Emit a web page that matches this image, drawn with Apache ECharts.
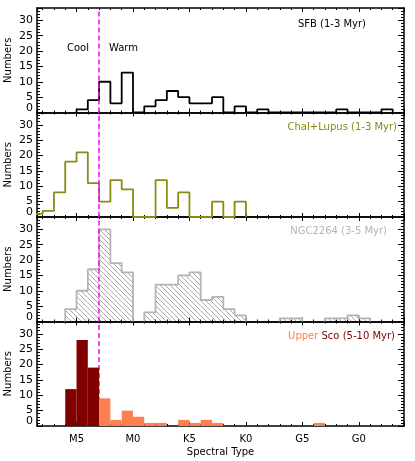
<!DOCTYPE html>
<html>
<head>
<meta charset="utf-8">
<script src="https://cdn.jsdelivr.net/npm/echarts@6/dist/echarts.min.js"></script>
<style>
  html, body { margin: 0; padding: 0; background: #fff; }
  #chart { width: 415px; height: 461px; }
</style>
</head>
<body>
<div id="chart"></div>
<script>
// one bin per spectral subtype, x = 0 is M5, 5 is M0 ... 25 is G0
var binStart = -4;
var sfb      = [0,0,0,0,1,4,10,3,13,0,2,4,7,5,3,3,5,0,2,0,1,0,0,0,0,0,0,1,0,0,0,1,0];
var chaLupus = [1,2,8,18,21,11,5,12,9,0,0,12,3,8,0,0,5,0,5,0,0,0,0,0,0,0,0,0,0,0,0,0,0];
var ngc2264  = [0,0,0,4,10,17,30,19,16,0,3,12,12,15,16,7,8,4,2,0,0,0,1,1,0,0,1,1,2,1,0,0,0];
var upperSco = [0,0,0,12,28,19,9,2,5,3,1,1,0,2,1,2,1,0,0,0,0,0,0,0,0,1,0,0,0,0,0,0,0];
var tickNames = ['M5', 'M0', 'K5', 'K0', 'G5', 'G0'];
var coolWarm = 2; // M3

var font = 'DejaVu Sans';
var olive = '#8a8a14';
var grey = '#b4b4b4';
var maroon = '#800000';
var coral = '#ff7f50';

var tops = [8, 112.5, 217, 321.5];
var ph = 104.5;

// step outline, optionally broken where the count is zero
function stepPoints(counts, breakAtZero) {
  var pts = [];
  var first = -1, last = -1;
  counts.forEach(function (c, k) { if (c > 0) { if (first < 0) first = k; last = k; } });
  var open = false;
  for (var k = first; k <= last; k++) {
    var c = counts[k];
    if (breakAtZero && c === 0) {
      if (open) { pts.push([binStart + k, 0]); pts.push(null); open = false; }
      continue;
    }
    if (!open) { pts.push([binStart + k, 0]); open = true; }
    pts.push([binStart + k, c]);
  }
  pts.push([binStart + last + 1, 0]);
  return pts;
}

function hatchCanvas() {
  var s = 5;
  var c = document.createElement('canvas');
  c.width = s; c.height = s;
  var g = c.getContext('2d');
  g.strokeStyle = '#a8a8a8';
  g.lineWidth = 1;
  g.beginPath();
  g.moveTo(-1, -1); g.lineTo(s + 1, s + 1);
  g.moveTo(-1, s - 1); g.lineTo(1, s + 1);
  g.moveTo(s - 1, -1); g.lineTo(s + 1, 1);
  g.stroke();
  return c;
}
var hatch = hatchCanvas();

function barItems(counts) {
  var out = [];
  counts.forEach(function (c, k) { if (c > 0) out.push([binStart + k, c]); });
  return out;
}

function barRender(fillFn) {
  return function (params, api) {
    var x0 = api.value(0), h = api.value(1);
    var p0 = api.coord([x0, h]);
    var p1 = api.coord([x0 + 1, 0]);
    var cs = params.coordSys;
    var r = echarts.graphic.clipRectByRect(
      { x: p0[0], y: p0[1], width: p1[0] - p0[0], height: p1[1] - p0[1] },
      { x: cs.x, y: cs.y, width: cs.width, height: cs.height });
    if (!r) return;
    return { type: 'rect', shape: r, style: { fill: fillFn(x0), stroke: null } };
  };
}

var grids = [], xAxes = [], yAxes = [], series = [];

tops.forEach(function (t, i) {
  grids.push({ left: 37, right: 11, top: t, height: ph, containLabel: false, outerBoundsMode: 'none' });
  ['bottom', 'top'].forEach(function (pos) {
    xAxes.push({
      type: 'value', gridIndex: i, position: pos, min: -3.5, max: 29, splitNumber: 6,
      axisLine: { show: true, onZero: false, lineStyle: { color: '#000', width: 1.5 } },
      axisTick: { show: true, inside: true, length: 4, lineStyle: { color: '#000', width: 1 } },
      minorTick: { show: true, splitNumber: 5, length: 2, lineStyle: { color: '#000', width: 1 } },
      splitLine: { show: false },
      axisLabel: {
        show: pos === 'bottom' && i === 3, margin: 8, color: '#000', fontSize: 10, fontFamily: font,
        formatter: function (v) { return (v % 5 === 0 && v >= 0 && v <= 25) ? tickNames[v / 5] : ''; }
      },
      name: (pos === 'bottom' && i === 3) ? 'Spectral Type' : '',
      nameLocation: 'middle', nameGap: 21, nameMoveOverlap: false,
      nameTextStyle: { color: '#000', fontSize: 10, fontFamily: font }
    });
  });
  ['left', 'right'].forEach(function (pos) {
    yAxes.push({
      type: 'value', gridIndex: i, position: pos, min: 0, max: 34, splitNumber: 7,
      axisLine: { show: true, onZero: false, lineStyle: { color: '#000', width: 1.5 } },
      axisTick: { show: true, inside: true, length: 6, lineStyle: { color: '#000', width: 1 } },
      minorTick: { show: true, splitNumber: 5, length: 3, lineStyle: { color: '#000', width: 1 } },
      splitLine: { show: false },
      axisLabel: {
        show: pos === 'left', margin: 4, color: '#000', fontSize: 11, fontFamily: font,
        formatter: function (v) { return v % 5 === 0 ? (v === 0 ? '{z|0}' : String(v)) : ''; },
        rich: { z: { padding: [0, 0, 9, 0], fontSize: 11, fontFamily: font, color: '#000' } }
      },
      name: pos === 'left' ? 'Numbers' : '',
      nameLocation: 'middle', nameGap: 24, nameMoveOverlap: false,
      nameTextStyle: { color: '#000', fontSize: 10, fontFamily: font }
    });
  });
});

var boundary = function () {
  return {
    silent: true, symbol: 'none', animation: false,
    label: { show: false },
    lineStyle: { color: '#ff00ff', type: [5, 3], width: 1.5 },
    data: [{ xAxis: coolWarm }]
  };
};

function stepSeries(i, counts, color, breakAtZero) {
  return {
    type: 'line', xAxisIndex: 2 * i, yAxisIndex: 2 * i, step: 'end',
    data: stepPoints(counts, breakAtZero), showSymbol: false, symbol: 'none',
    connectNulls: false, clip: true, silent: true, animation: false, z: 3,
    lineStyle: { color: color, width: 1.8 }
  };
}

// dashed cool / warm boundary, one per panel, drawn low
tops.forEach(function (t, i) {
  series.push({
    type: 'line', xAxisIndex: 2 * i, yAxisIndex: 2 * i, data: [],
    silent: true, animation: false, z: 1, markLine: boundary()
  });
});

series.push(stepSeries(0, sfb, '#000', false));
series.push(stepSeries(1, chaLupus, olive, false));

series.push({
  type: 'custom', xAxisIndex: 4, yAxisIndex: 4, data: barItems(ngc2264),
  renderItem: barRender(function () { return { image: hatch, repeat: 'repeat' }; }),
  silent: true, animation: false, z: 0
});
series.push(stepSeries(2, ngc2264, grey, true));

series.push({
  type: 'custom', xAxisIndex: 6, yAxisIndex: 6, data: barItems(upperSco),
  renderItem: barRender(function (x0) { return x0 < coolWarm ? maroon : coral; }),
  silent: true, animation: false, z: 10
});

var txt = function (x, y, text, color, align, size) {
  return {
    type: 'text', x: x, y: y, silent: true,
    style: { text: text, fill: color, font: (size || 10) + 'px "' + font + '"', align: align, verticalAlign: 'middle' }
  };
};

var chart = echarts.init(document.getElementById('chart'));
chart.setOption({
  animation: false,
  grid: grids,
  xAxis: xAxes,
  yAxis: yAxes,
  series: series,
  graphic: [
    txt(366, 24, 'SFB (1-3 Myr)', '#000', 'right'),
    txt(78, 48, 'Cool', '#000', 'center'),
    txt(123.5, 48, 'Warm', '#000', 'center'),
    txt(397, 127, 'ChaI+Lupus (1-3 Myr)', olive, 'right'),
    txt(387, 231, 'NGC2264 (3-5 Myr)', grey, 'right'),
    {
      type: 'text', x: 395, y: 336, silent: true,
      style: {
        text: '{a|Upper} {b|Sco (5-10 Myr)}', align: 'right', verticalAlign: 'middle',
        font: '10px "' + font + '"',
        rich: {
          a: { fill: coral, fontSize: 10, fontFamily: font },
          b: { fill: maroon, fontSize: 10, fontFamily: font }
        }
      }
    }
  ]
});
</script>
</body>
</html>
